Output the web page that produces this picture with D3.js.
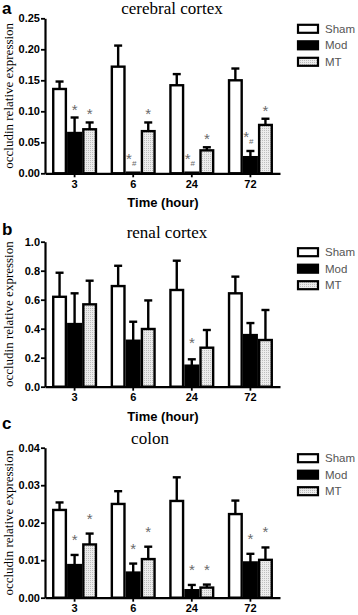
<!DOCTYPE html>
<html>
<head>
<meta charset="utf-8">
<script src="https://cdn.jsdelivr.net/npm/d3@7/dist/d3.min.js"></script>
<style>
  body { margin: 0; background: #fff; }
  svg { display: block; }
</style>
</head>
<body>
<div id="chart"></div>
<script>
// time points and groups shared by all three panels
const times = ["3", "6", "24", "72"];
const groups = ["Sham", "Mod", "MT"];

// a - cerebral cortex (rows: Sham, Mod, MT)
const cerebralMeans = [
  [0.136, 0.172, 0.142, 0.150],
  [0.065, 0.001, 0.001, 0.026],
  [0.071, 0.068, 0.037, 0.078],
];
const cerebralSem = [
  [0.012, 0.034, 0.018, 0.019],
  [0.025, 0, 0, 0.010],
  [0.011, 0.014, 0.005, 0.010],
];
const cerebralMarks = [
  ["", "", "", ""],
  ["*", "*#", "*#", "*#"],
  ["*", "*", "*", "*"],
];
const cerebralTicks = [0, 0.05, 0.1, 0.15, 0.2, 0.25];

// b - renal cortex
const renalMeans = [
  [0.62, 0.694, 0.667, 0.644],
  [0.432, 0.317, 0.145, 0.356],
  [0.568, 0.398, 0.269, 0.322],
];
const renalSem = [
  [0.166, 0.14, 0.202, 0.115],
  [0.212, 0.131, 0.044, 0.083],
  [0.163, 0.197, 0.122, 0.207],
];
const renalMarks = [
  ["", "", "", ""],
  ["", "", "*", ""],
  ["", "", "", ""],
];
const renalTicks = [0, 0.2, 0.4, 0.6, 0.8, 1.0];

// c - colon
const colonMeans = [
  [0.0234, 0.025, 0.0258, 0.0223],
  [0.0087, 0.0067, 0.002, 0.0094],
  [0.0142, 0.0103, 0.0027, 0.0101],
];
const colonSem = [
  [0.002, 0.0034, 0.0063, 0.0036],
  [0.0027, 0.0024, 0.0014, 0.0023],
  [0.0029, 0.0033, 0.0008, 0.0033],
];
const colonMarks = [
  ["", "", "", ""],
  ["*", "*", "*", "*"],
  ["*", "*", "*", "*"],
];
const colonTicks = [0, 0.01, 0.02, 0.03, 0.04];

const svg = d3.select("#chart")
  .append("svg")
  .attr("width", 358)
  .attr("height", 615);

// dotted light grey fill for the MT bars
const defs = svg.append("defs");
const pat = defs.append("pattern")
  .attr("id", "dots")
  .attr("width", 2)
  .attr("height", 2)
  .attr("patternUnits", "userSpaceOnUse");
pat.append("rect").attr("width", 2).attr("height", 2).attr("fill", "#ececec");
pat.append("rect").attr("width", 1).attr("height", 1).attr("fill", "#bdbdbd");

const fills = ["#fff", "#000", "url(#dots)"];

function drawPanel(cfg) {
  const g = svg.append("g");
  const left = 45, right = 280;

  const x0 = d3.scaleBand()
    .domain(times)
    .range([left, right])
    .paddingInner(0.23)
    .paddingOuter(0.12);
  const x1 = d3.scaleBand()
    .domain(groups)
    .range([0, x0.bandwidth()]);
  const y = d3.scaleLinear()
    .domain([0, cfg.ticks[cfg.ticks.length - 1]])
    .range([cfg.bottom, cfg.top]);

  // panel letter and title
  g.append("text")
    .attr("x", 2).attr("y", cfg.letterY)
    .attr("font-family", "Liberation Sans, Arial, sans-serif")
    .attr("font-weight", "bold").attr("font-size", 17)
    .text(cfg.letter);
  g.append("text")
    .attr("x", cfg.titleX).attr("y", cfg.top - 4)
    .attr("text-anchor", "middle")
    .attr("font-family", "Liberation Serif, Times New Roman, serif")
    .attr("font-size", 17)
    .text(cfg.title);

  // y label
  g.append("text")
    .attr("transform", `translate(13,${(cfg.top + cfg.bottom) / 2}) rotate(-90)`)
    .attr("text-anchor", "middle")
    .attr("font-family", "Liberation Serif, Times New Roman, serif")
    .attr("font-size", 13)
    .text("occludin relative expression");

  // bars
  cfg.means.forEach((row, si) => {
    row.forEach((v, ti) => {
      const bx = x0(times[ti]) + x1(groups[si]);
      g.append("rect")
        .attr("x", bx + 1.2)
        .attr("y", y(v))
        .attr("width", x1.bandwidth() - 2.4)
        .attr("height", y(0) - y(v))
        .attr("fill", fills[si])
        .attr("stroke", "#000")
        .attr("stroke-width", 2.4);

      const cx = bx + x1.bandwidth() / 2;
      const top = y(v + cfg.sem[si][ti]);
      if (cfg.sem[si][ti] > 0) {
        g.append("line")
          .attr("x1", cx).attr("x2", cx)
          .attr("y1", y(v)).attr("y2", top)
          .attr("stroke", "#000").attr("stroke-width", 2.4);
        g.append("line")
          .attr("x1", cx - 4).attr("x2", cx + 4)
          .attr("y1", top).attr("y2", top)
          .attr("stroke", "#000").attr("stroke-width", 2.4);
      }

      // significance marks above the error bar
      const mark = cfg.marks[si][ti];
      if (mark) {
        const hash = mark.includes("#");
        const t = g.append("text")
          .attr("x", hash ? cx - 2 : cx)
          .attr("y", top - (hash ? 18 : cfg.markOffset) + 9)
          .attr("text-anchor", "middle")
          .attr("font-family", "Liberation Sans, Arial, sans-serif")
          .attr("font-size", 15)
          .attr("fill", "#6a6a6a")
          .text("*");
        if (hash) {
          t.append("tspan")
            .attr("font-size", 8)
            .attr("dy", 2)
            .text("#");
        }
      }
    });
  });

  // axes
  const yAxis = g.append("g")
    .attr("transform", `translate(${left},0)`)
    .call(d3.axisLeft(y).tickValues(cfg.ticks).tickFormat(d3.format(cfg.fmt))
      .tickSize(4).tickPadding(1).tickSizeOuter(0));
  const xAxis = g.append("g")
    .attr("transform", `translate(0,${cfg.bottom})`)
    .call(d3.axisBottom(x0).tickSize(4).tickPadding(3).tickSizeOuter(0));

  [yAxis, xAxis].forEach((ax) => {
    ax.select(".domain").attr("stroke-width", 2.2);
    ax.selectAll(".tick line").attr("stroke-width", 1.8);
    ax.selectAll("text")
      .attr("font-family", "Liberation Sans, Arial, sans-serif")
      .attr("font-weight", "bold")
      .attr("font-size", 11)
      .attr("fill", "#000");
  });

  if (cfg.showXLabel) {
    g.append("text")
      .attr("x", 163).attr("y", cfg.bottom + 34)
      .attr("text-anchor", "middle")
      .attr("font-family", "Liberation Sans, Arial, sans-serif")
      .attr("font-weight", "bold").attr("font-size", 13)
      .text("Time (hour)");
  }

  // legend
  groups.forEach((name, i) => {
    const ly = cfg.top + 10.5 + i * 16.5;
    g.append("rect")
      .attr("x", 298).attr("y", ly - 4)
      .attr("width", 20).attr("height", 8)
      .attr("fill", fills[i])
      .attr("stroke", "#000").attr("stroke-width", 2.2);
    g.append("text")
      .attr("x", 325).attr("y", ly + 4)
      .attr("font-family", "Liberation Sans, Arial, sans-serif")
      .attr("font-size", 11.5)
      .attr("fill", "#555")
      .text(name);
  });
}

drawPanel({
  letter: "a", letterY: 14, title: "cerebral cortex", titleX: 172,
  top: 18.3, bottom: 173.3, ticks: cerebralTicks, fmt: ".2f",
  means: cerebralMeans, sem: cerebralSem, marks: cerebralMarks,
  markOffset: 12, showXLabel: true,
});
drawPanel({
  letter: "b", letterY: 235, title: "renal cortex", titleX: 167,
  top: 241.7, bottom: 386.7, ticks: renalTicks, fmt: ".1f",
  means: renalMeans, sem: renalSem, marks: renalMarks,
  markOffset: 20, showXLabel: true,
});
drawPanel({
  letter: "c", letterY: 429, title: "colon", titleX: 150,
  top: 447.7, bottom: 597.7, ticks: colonTicks, fmt: ".2f",
  means: colonMeans, sem: colonSem, marks: colonMarks,
  markOffset: 19, showXLabel: false,
});
</script>
</body>
</html>
